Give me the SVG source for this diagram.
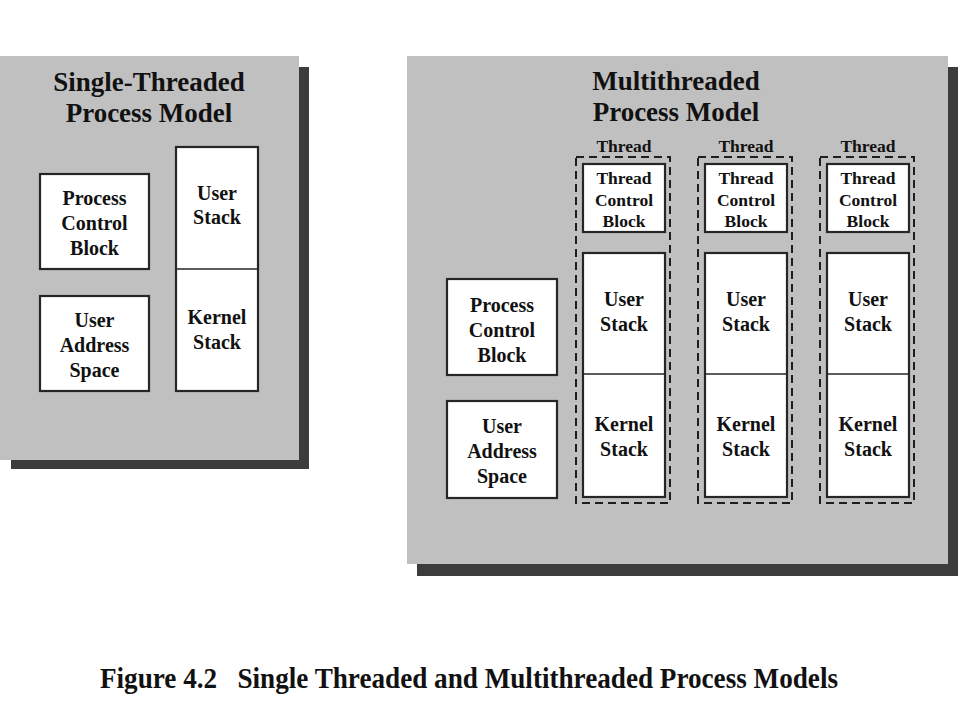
<svg xmlns="http://www.w3.org/2000/svg" width="960" height="720" viewBox="0 0 960 720">
<style>
.panel{fill:#c0c0c0}
.shadow{fill:#3c3c3c}
.box{fill:#fff;stroke:#262626;stroke-width:2.2}
.div{stroke:#262626;stroke-width:1.5}
.dash{fill:none;stroke:#1e1e1e;stroke-width:2;stroke-dasharray:8,5}
.title{font-family:"Liberation Serif",serif;font-weight:bold;font-size:27px;fill:#111;text-anchor:middle}
.lbl{font-family:"Liberation Serif",serif;font-weight:bold;font-size:20px;fill:#111;text-anchor:middle}
.sm{font-family:"Liberation Serif",serif;font-weight:bold;font-size:17.5px;fill:#111;text-anchor:middle}
.cap{font-family:"Liberation Serif",serif;font-weight:bold;font-size:29px;fill:#111}
</style>
<rect width="960" height="720" fill="#fff"/>

<g id="single-panel">
<rect class="shadow" x="11" y="67" width="298" height="402"/>
<rect class="panel" x="0" y="56" width="299" height="404"/>
<text class="title" x="149" y="91">Single-Threaded</text>
<text class="title" x="149" y="122">Process Model</text>
</g>
<g id="s-pcb">
<rect class="box" x="40" y="174" width="109" height="95"/>
<text class="lbl" x="94.5" y="205">Process</text>
<text class="lbl" x="94.5" y="230">Control</text>
<text class="lbl" x="94.5" y="255">Block</text>
</g>
<g id="s-uas">
<rect class="box" x="40" y="296" width="109" height="95"/>
<text class="lbl" x="94.5" y="327">User</text>
<text class="lbl" x="94.5" y="352">Address</text>
<text class="lbl" x="94.5" y="377">Space</text>
</g>
<g id="s-stack">
<rect class="box" x="176" y="147" width="82" height="244"/>
<line class="div" x1="176" y1="269" x2="258" y2="269"/>
<text class="lbl" x="217" y="200">User</text>
<text class="lbl" x="217" y="224">Stack</text>
<text class="lbl" x="217" y="324">Kernel</text>
<text class="lbl" x="217" y="349">Stack</text>
</g>

<g id="multi-panel">
<rect class="shadow" x="417" y="67" width="541" height="509"/>
<rect class="panel" x="407" y="56" width="541" height="508"/>
<text class="title" x="676" y="90">Multithreaded</text>
<text class="title" x="676" y="121">Process Model</text>
</g>
<g id="m-pcb">
<rect class="box" x="447" y="279" width="110" height="96"/>
<text class="lbl" x="502" y="312">Process</text>
<text class="lbl" x="502" y="337">Control</text>
<text class="lbl" x="502" y="362">Block</text>
</g>
<g id="m-uas">
<rect class="box" x="447" y="401" width="110" height="97"/>
<text class="lbl" x="502" y="433">User</text>
<text class="lbl" x="502" y="458">Address</text>
<text class="lbl" x="502" y="483">Space</text>
</g>

<g id="thread1">
<text class="sm" x="624" y="152">Thread</text>
<rect class="dash" x="576" y="157" width="94" height="346"/>
<rect class="box" x="583" y="164" width="82" height="68"/>
<text class="sm" x="624" y="184">Thread</text>
<text class="sm" x="624" y="206">Control</text>
<text class="sm" x="624" y="227">Block</text>
<rect class="box" x="583" y="253" width="82" height="244"/>
<line class="div" x1="583" y1="374" x2="665" y2="374"/>
<text class="lbl" x="624" y="306">User</text>
<text class="lbl" x="624" y="331">Stack</text>
<text class="lbl" x="624" y="431">Kernel</text>
<text class="lbl" x="624" y="456">Stack</text>
</g>
<g id="thread2">
<text class="sm" x="746" y="152">Thread</text>
<rect class="dash" x="698" y="157" width="94" height="346"/>
<rect class="box" x="705" y="164" width="82" height="68"/>
<text class="sm" x="746" y="184">Thread</text>
<text class="sm" x="746" y="206">Control</text>
<text class="sm" x="746" y="227">Block</text>
<rect class="box" x="705" y="253" width="82" height="244"/>
<line class="div" x1="705" y1="374" x2="787" y2="374"/>
<text class="lbl" x="746" y="306">User</text>
<text class="lbl" x="746" y="331">Stack</text>
<text class="lbl" x="746" y="431">Kernel</text>
<text class="lbl" x="746" y="456">Stack</text>
</g>
<g id="thread3">
<text class="sm" x="868" y="152">Thread</text>
<rect class="dash" x="820" y="157" width="94" height="346"/>
<rect class="box" x="827" y="164" width="82" height="68"/>
<text class="sm" x="868" y="184">Thread</text>
<text class="sm" x="868" y="206">Control</text>
<text class="sm" x="868" y="227">Block</text>
<rect class="box" x="827" y="253" width="82" height="244"/>
<line class="div" x1="827" y1="374" x2="909" y2="374"/>
<text class="lbl" x="868" y="306">User</text>
<text class="lbl" x="868" y="331">Stack</text>
<text class="lbl" x="868" y="431">Kernel</text>
<text class="lbl" x="868" y="456">Stack</text>
</g>

<g id="connectors"></g>

<text class="cap" x="100" y="688" textLength="738" lengthAdjust="spacingAndGlyphs" xml:space="preserve">Figure 4.2   Single Threaded and Multithreaded Process Models</text>
</svg>
